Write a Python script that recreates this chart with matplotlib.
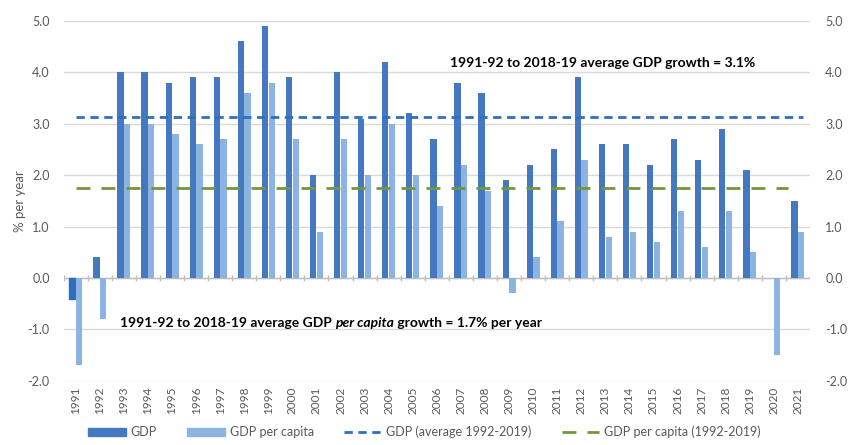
import numpy as np
import matplotlib.pyplot as plt
from matplotlib.patches import Patch
from matplotlib.lines import Line2D
from matplotlib.transforms import offset_copy

plt.rcParams['font.family'] = ['Lato', 'DejaVu Sans']

# data
years = [str(y) for y in range(1991, 2022)]
gdp = [-0.4, 0.4, 4.0, 4.0, 3.8, 3.9, 3.9, 4.6, 4.9, 3.9, 2.0, 4.0, 3.1, 4.2, 3.2,
       2.7, 3.8, 3.6, 1.9, 2.2, 2.5, 3.9, 2.6, 2.6, 2.2, 2.7, 2.3, 2.9, 2.1, np.nan, 1.5]
gdp_pc = [-1.7, -0.8, 3.0, 3.0, 2.8, 2.6, 2.7, 3.6, 3.8, 2.7, 0.9, 2.7, 2.0, 3.0, 2.0,
          1.4, 2.2, 1.7, -0.3, 0.4, 1.1, 2.3, 0.8, 0.9, 0.7, 1.3, 0.6, 1.3, 0.5, -1.5, 0.9]
gdp_avg = 3.13
gdp_pc_avg = 1.75

c_gdp = '#4479C1'
c_gdp_first = '#2C6FBE'
c_pc = '#8DB3E2'
c_avg = '#2E6FC0'
c_pc_avg = '#75963A'
grey = '#595959'

fig = plt.figure(figsize=(8.49, 4.45), dpi=100)
ax = fig.add_axes([0.075, 0.144, 0.879, 0.809])

x = np.arange(len(years))
w = 0.26
bars = ax.bar(x - 0.14, gdp, w, color=c_gdp, zorder=3)
bars[0].set_color(c_gdp_first)
ax.bar(x + 0.14, gdp_pc, w, color=c_pc, zorder=3)

ax.plot([0, x[-1] + 0.2], [gdp_avg, gdp_avg], color=c_avg, lw=2, dashes=(3, 2), zorder=4)
ax.plot([0, x[-1] - 0.4], [gdp_pc_avg, gdp_pc_avg], color=c_pc_avg, lw=2, dashes=(5, 4), zorder=4)

ax.set_xlim(-0.5, len(years) - 0.5)
ax.set_ylim(-2, 5)
ticks = np.arange(-2, 6, 1)
ax.set_yticks(ticks)
ax.set_yticklabels([f'{v:.1f}' for v in ticks])
ax.grid(axis='y', color='#D9D9D9', lw=1, zorder=0)
ax.axhline(0, color='#BFBFBF', lw=1, zorder=2)
ax.vlines(np.arange(len(years) + 1) - 0.5, -0.06, 0.06, color='#BFBFBF', lw=1, zorder=2)
for s in ax.spines.values():
    s.set_visible(False)
ax.set_xticks(x)
ax.set_xticklabels(years, rotation=90, fontsize=8.5, color=grey)
ax.tick_params(axis='x', length=0, pad=4)
ax.tick_params(axis='y', length=0, labelsize=9, colors=grey, pad=10)
ax.set_ylabel('% per year', fontsize=9.5, color=grey, labelpad=1)

ax2 = ax.twinx()
ax2.set_ylim(ax.get_ylim())
ax2.set_yticks(ticks)
ax2.set_yticklabels([f'{v:.1f}' for v in ticks])
ax2.tick_params(axis='y', length=0, labelsize=9, colors=grey, pad=11)
for s in ax2.spines.values():
    s.set_visible(False)

ax.text(15.55, 4.18, '1991-92 to 2018-19 average GDP growth = 3.1%',
        fontsize=10, fontweight='bold', color='black', va='center', zorder=5)

# second note: mixed bold / bold italic pieces placed one after another
pieces = [('1991-92 to 2018-19 average GDP ', 'normal'),
          ('per capita', 'italic'),
          (' growth = 1.7% per year', 'normal')]
fig.canvas.draw()
renderer = fig.canvas.get_renderer()
tr = ax.transData
for txt, style in pieces:
    t = ax.text(1.85, -0.87, txt, fontsize=10, fontweight='bold', style=style,
                color='black', va='center', transform=tr, zorder=5)
    t.draw(renderer)
    ext = t.get_window_extent(renderer)
    tr = offset_copy(t.get_transform(), fig=fig, x=ext.width, units='dots')

handles = [Patch(color=c_gdp), Patch(color=c_pc),
           Line2D([], [], color=c_avg, lw=2, dashes=(3, 2)),
           Line2D([], [], color=c_pc_avg, lw=2, dashes=(5, 4))]
labels = ['GDP', 'GDP per capita', 'GDP (average 1992-2019)', 'GDP per capita (1992-2019)']
fig.legend(handles, labels, loc='lower center', bbox_to_anchor=(0.5, -0.01), ncol=4,
           frameon=False, fontsize=9, handlelength=3.0, handleheight=0.6,
           handletextpad=0.4, columnspacing=2.4, labelcolor=grey)

fig.savefig('out.png', dpi=100)
